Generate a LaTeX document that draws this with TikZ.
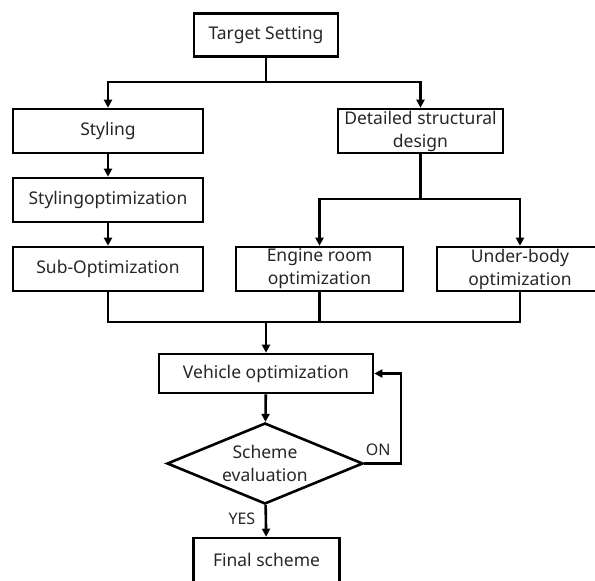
\documentclass[tikz,border=0pt]{standalone}
\usepackage{fontspec}
\setmainfont{Noto Sans}
\usetikzlibrary{arrows.meta,shapes.geometric}

\begin{document}
\begin{tikzpicture}[x=1pt,y=-1pt,
        line width=2.6pt,
        >={Triangle[length=8pt,width=8pt]},
        box/.style={draw, rectangle, align=center, inner sep=1pt,
            font=\fontsize{17.5}{23}\selectfont, text=black!85},
        decision/.style={draw, diamond, align=center, inner sep=0pt,
            minimum width=196pt, minimum height=81pt, aspect=2.4,
            font=\fontsize{17.5}{23}\selectfont, text=black!85},
        tag/.style={font=\fontsize{16}{18}\selectfont, text=black!85}]
        \useasboundingbox (0,0) rectangle (595,581);
        % boxes
        \node[box, minimum width=144pt, minimum height=43pt] (target) at (266,35) {Target Setting};
        \node[box, minimum width=190pt, minimum height=44pt] (styling) at (108,131) {Styling};
        \node[box, minimum width=165pt, minimum height=44pt] (detail) at (420.5,131) {Detailed structural\\design};
        \node[box, minimum width=190pt, minimum height=44pt] (stylopt) at (108,200) {Stylingoptimization};
        \node[box, minimum width=190pt, minimum height=44pt] (subopt) at (108,269) {Sub-Optimization};
        \node[box, minimum width=167pt, minimum height=44pt] (engine) at (319.5,269) {Engine room\\optimization};
        \node[box, minimum width=166pt, minimum height=44pt] (under) at (520,269) {Under-body\\optimization};
        \node[box, minimum width=214pt, minimum height=39pt] (vehicle) at (266,373.5) {Vehicle optimization};
        \node[decision] (eval) at (265,463.5) {Scheme\\evaluation};
        \node[box, minimum width=146pt, minimum height=44pt] (final) at (266.5,560) {Final scheme};
        % branch points
        \coordinate (split) at (266,82);
        \coordinate (splitb) at (420.5,199);
        \coordinate (merge) at (266,322);
        \coordinate (back) at (401,463.5);
        % connectors
        \draw (target) -- (split);
        \draw[->] (split) -| (styling);
        \draw[->] (split) -| (detail);
        \draw[->] (styling) -- (stylopt);
        \draw[->] (stylopt) -- (subopt);
        \draw (detail) -- (splitb);
        \draw[->] (splitb) -| (engine);
        \draw[->] (splitb) -| (under);
        \draw (subopt) |- (merge);
        \draw (engine) |- (merge);
        \draw (under) |- (merge);
        \draw[->] (merge) -- (vehicle);
        \draw[->] (vehicle) -- (eval);
        \draw[->] (eval) -- (final) node[tag, midway, left, xshift=-6pt, yshift=2pt] {YES};
        \draw[->] (eval.east) -- (back) |- (vehicle.east);
        \node[tag, above right, xshift=-3pt, yshift=3pt] at (eval.east) {ON};
\end{tikzpicture}
\end{document}
